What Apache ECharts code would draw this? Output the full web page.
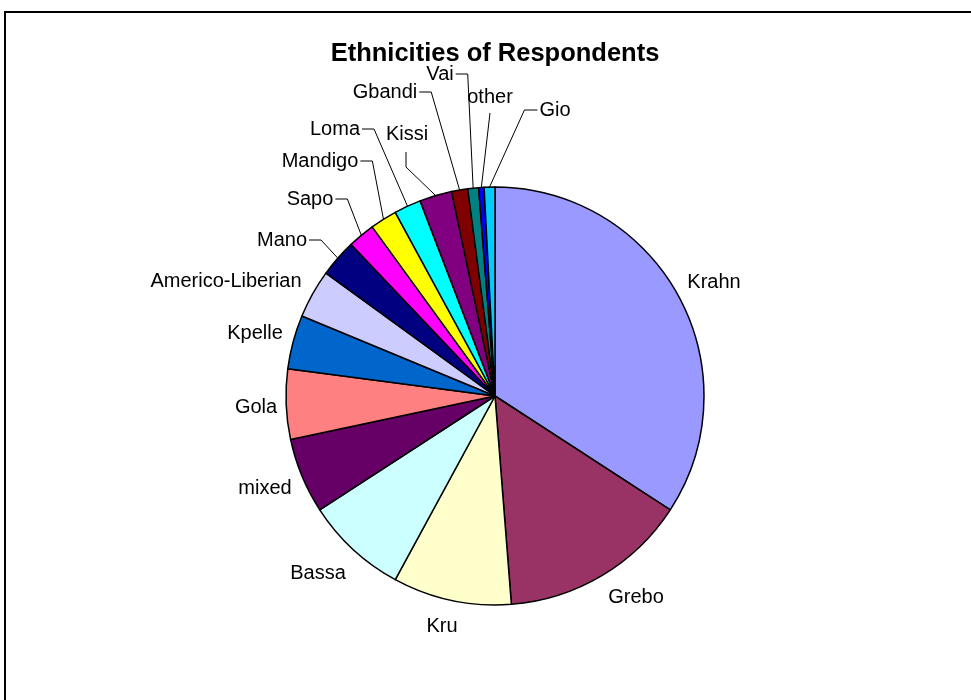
<!DOCTYPE html>
<html>
<head>
<meta charset="utf-8">
<title>Ethnicities of Respondents</title>
<script src="https://cdn.jsdelivr.net/npm/echarts@6/dist/echarts.min.js"></script>
<style>
  html, body { margin: 0; padding: 0; background: #fff; }
  #main { width: 971px; height: 700px; }
</style>
</head>
<body>
<div id="main"></div>
<script>
// groups in drawing order, clockwise from 12 o'clock
var groups = ["Krahn", "Grebo", "Kru", "Bassa", "mixed", "Gola", "Kpelle",
  "Americo-Liberian", "Mano", "Sapo", "Mandigo", "Loma", "Kissi", "Gbandi",
  "Vai", "other", "Gio"];
// respondents per group
var counts = [82, 35, 22, 19, 14, 13, 10, 9, 7, 5, 5, 5, 6, 3, 2, 1, 2];
// excel default fill palette
var colors = ["#9999FF", "#993366", "#FFFFCC", "#CCFFFF", "#660066", "#FF8080",
  "#0066CC", "#CCCCFF", "#000080", "#FF00FF", "#FFFF00", "#00FFFF", "#800080",
  "#800000", "#008080", "#0000FF", "#00CCFF"];

// label centre + which way its leader line leaves the text
var labelSpots = {
  "Krahn": [714, 282, "none"],
  "Grebo": [636, 597, "none"],
  "Kru": [442, 626, "none"],
  "Bassa": [318, 573, "none"],
  "mixed": [265, 488, "none"],
  "Gola": [256, 407, "none"],
  "Kpelle": [255, 333, "none"],
  "Americo-Liberian": [226, 281, "none"],
  "Mano": [282, 240, "right"],
  "Sapo": [310, 199, "right"],
  "Mandigo": [320, 161, "right"],
  "Loma": [335, 129, "right"],
  "Kissi": [407, 134, "below"],
  "Gbandi": [385, 92, "right"],
  "Vai": [440, 74, "right"],
  "other": [490, 97, "straight"],
  "Gio": [555, 110, "left"]
};

var pieData = groups.map(function (g, i) {
  return {
    name: g,
    value: counts[i],
    itemStyle: { color: colors[i] },
    labelLine: { show: labelSpots[g][2] !== "none" }
  };
});

var chart = echarts.init(document.getElementById("main"));
chart.setOption({
  animation: false,
  title: {
    text: "Ethnicities of Respondents",
    left: 490,
    top: 36,
    textAlign: "center",
    textStyle: {
      fontFamily: "Liberation Sans, Arial, sans-serif",
      fontWeight: "bold",
      fontSize: 25.5,
      color: "#000"
    }
  },
  graphic: [{
    type: "rect",
    shape: { x: 5, y: 12, width: 1000, height: 1000 },
    style: { fill: "none", stroke: "#000", lineWidth: 2 },
    silent: true
  }],
  series: [{
    type: "pie",
    center: [495, 396],
    radius: 209,
    startAngle: 90,
    clockwise: true,
    avoidLabelOverlap: false,
    itemStyle: { borderColor: "#000", borderWidth: 1.5 },
    emphasis: { disabled: true },
    label: {
      show: true,
      position: "outside",
      color: "#000",
      fontFamily: "Liberation Sans, Arial, sans-serif",
      fontSize: 20
    },
    labelLine: {
      show: true,
      length: 15,
      length2: 10,
      lineStyle: { color: "#000", width: 1 }
    },
    labelLayout: function (p) {
      var s = labelSpots[groups[p.dataIndex]];
      var x = s[0], y = s[1], how = s[2];
      var hw = p.labelRect.width / 2;
      var res = { x: x, y: y, align: "center", verticalAlign: "middle" };
      var pts = p.labelLinePoints;
      if (pts && how !== "none") {
        var arc = pts[0];
        if (how === "right") {
          res.labelLinePoints = [arc, [x + hw + 14, y], [x + hw + 2, y]];
        } else if (how === "left") {
          res.labelLinePoints = [arc, [x - hw - 15, y], [x - hw - 2, y]];
        } else if (how === "below") {
          res.labelLinePoints = [arc, [x - 1, y + 33], [x - 1, y + 18]];
        } else {
          res.labelLinePoints = [arc, [x, y + 16]];
        }
      }
      return res;
    },
    data: pieData
  }]
});
</script>
</body>
</html>
